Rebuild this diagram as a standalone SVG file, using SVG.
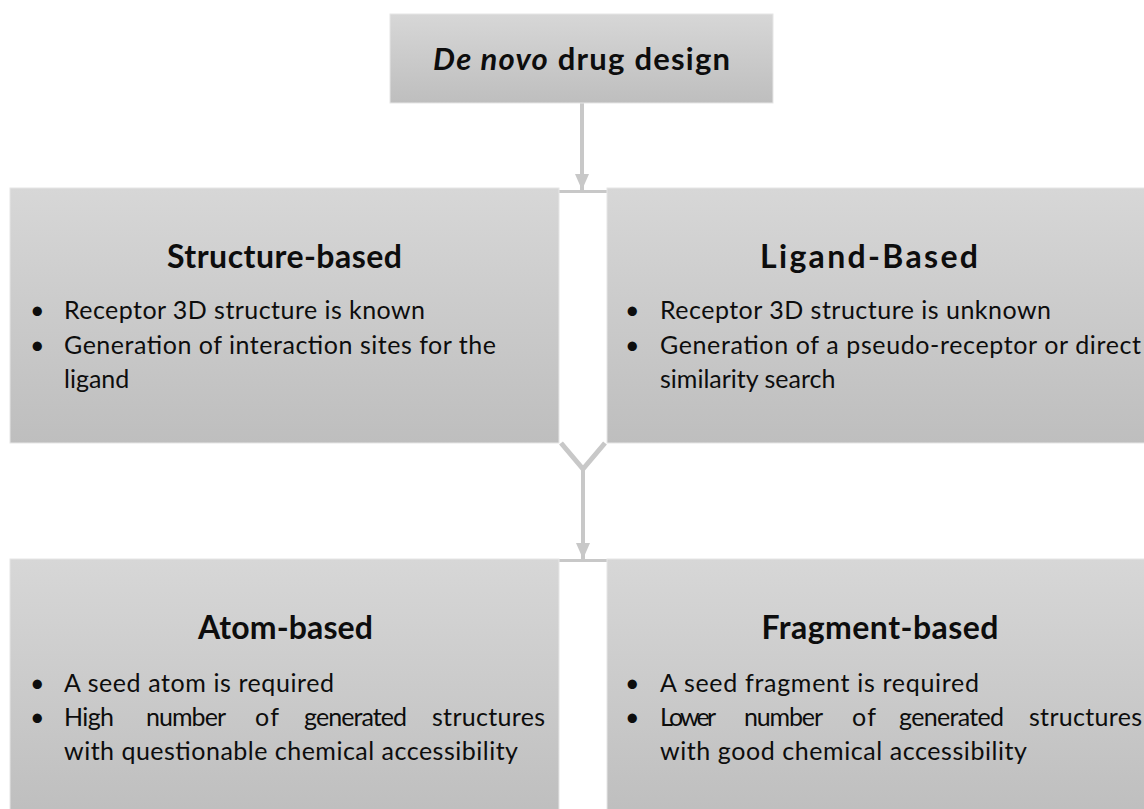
<svg xmlns="http://www.w3.org/2000/svg" width="1144" height="809" viewBox="0 0 1144 809">
<defs>
<linearGradient id="g" x1="0" y1="0" x2="0" y2="1">
<stop offset="0" stop-color="#d7d7d7"/>
<stop offset="1" stop-color="#bebebe"/>
</linearGradient>
<marker id="ah" markerUnits="userSpaceOnUse" markerWidth="16" markerHeight="14" refX="16" refY="7" orient="auto">
<path d="M0,0 L16,7 L0,14 Z" fill="#c8c8c8"/>
</marker>
<style>
.box{fill:url(#g);stroke:#e6e6e6;stroke-width:1}
.t{font-family:Lato,"Liberation Sans",sans-serif;fill:#0d0d0d}
.h{font-size:32px;font-weight:bold;text-anchor:middle}
.b{font-size:25px}
.c{stroke:#c8c8c8;fill:none}
</style>
</defs>
<rect width="1144" height="809" fill="#ffffff"/>
<g id="connectors">
<line class="c" x1="582" y1="103" x2="582" y2="190" stroke-width="4" marker-end="url(#ah)"/>
<line class="c" x1="559" y1="191.5" x2="607" y2="191.5" stroke-width="3"/>
<polyline class="c" points="561,443 583,469 605,443" stroke-width="5" stroke-linejoin="miter"/>
<line class="c" x1="583" y1="468" x2="583" y2="559" stroke-width="4" marker-end="url(#ah)"/>
<line class="c" x1="559" y1="560.5" x2="607" y2="560.5" stroke-width="3"/>
</g>
<g id="top">
<rect class="box" x="390" y="14" width="383" height="89"/>
<text class="t" x="433" y="70" font-size="31" font-weight="bold" textLength="297"><tspan font-style="italic">De novo</tspan> drug design</text>
</g>
<g id="structure">
<rect class="box" x="10" y="188" width="549" height="255"/>
<text class="t h" x="284.5" y="268" textLength="235">Structure-based</text>
<g class="t b">
<text x="30" y="319">•</text>
<text x="64" y="319" textLength="361">Receptor 3D structure is known</text>
<text x="30" y="354">•</text>
<text x="64" y="354" textLength="432">Generation of interaction sites for the</text>
<text x="64" y="388">ligand</text>
</g>
</g>
<g id="ligand">
<rect class="box" x="607" y="188" width="545" height="255"/>
<text class="t h" x="869" y="268" textLength="218">Ligand-Based</text>
<g class="t b">
<text x="625" y="319">•</text>
<text x="660" y="319" textLength="391">Receptor 3D structure is unknown</text>
<text x="625" y="354">•</text>
<text x="660" y="354" textLength="481">Generation of a pseudo-receptor or direct</text>
<text x="660" y="388">similarity search</text>
</g>
</g>
<g id="atom">
<rect class="box" x="10" y="559" width="549" height="260"/>
<text class="t h" x="285.5" y="639" textLength="175">Atom-based</text>
<g class="t b">
<text x="30" y="692">•</text>
<text x="64" y="692" textLength="270">A seed atom is required</text>
<text x="30" y="726">•</text>
<text x="64" y="726" textLength="50">High</text>
<text x="146" y="726" textLength="80">number</text>
<text x="255" y="726" textLength="24">of</text>
<text x="304" y="726" textLength="103">generated</text>
<text x="432" y="726" textLength="113">structures</text>
<text x="64" y="760" textLength="454">with questionable chemical accessibility</text>
</g>
</g>
<g id="fragment">
<rect class="box" x="607" y="559" width="545" height="260"/>
<text class="t h" x="880" y="639" textLength="237">Fragment-based</text>
<g class="t b">
<text x="625" y="692">•</text>
<text x="660" y="692" textLength="319">A seed fragment is required</text>
<text x="625" y="726">•</text>
<text x="660" y="726" textLength="56">Lower</text>
<text x="744" y="726" textLength="79">number</text>
<text x="852" y="726" textLength="24">of</text>
<text x="899" y="726" textLength="105">generated</text>
<text x="1029" y="726" textLength="113">structures</text>
<text x="660" y="760" textLength="367">with good chemical accessibility</text>
</g>
</g>
</svg>
